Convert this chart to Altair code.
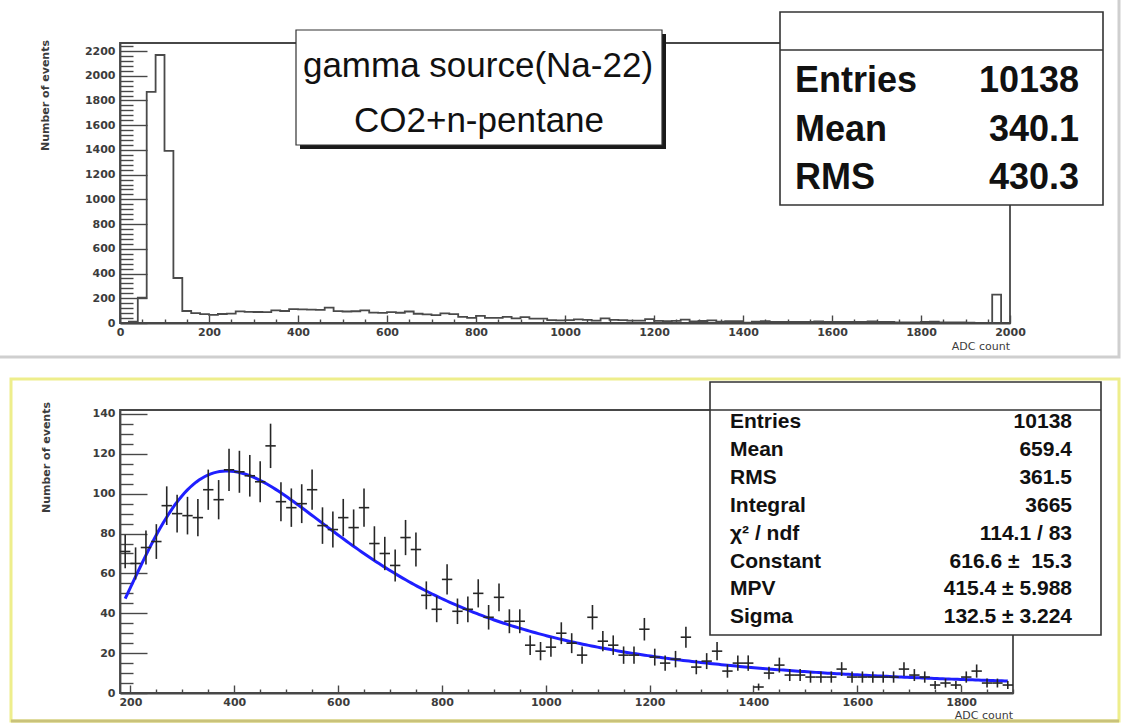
import numpy as np
import pandas as pd
import altair as alt

CANVAS_W, CANVAS_H = 1125, 728

# ---------------------------------------------------------------- data
BIN_WIDTH = 20
# events per 20-count ADC bin
COUNTS_0_180 = [0, 10, 205, 1869, 2168, 1392, 364, 97, 80]
COUNTS_180_1900 = [71, 65, 73, 76, 94, 90, 89, 88, 102, 97,
                   112, 111, 109, 106, 124, 96, 93, 95, 102, 84,
                   82, 88, 83, 93, 75, 70, 64, 78, 72, 49,
                   42, 57, 41, 42, 50, 38, 48, 36, 36, 24,
                   21, 23, 30, 25, 19, 38, 26, 24, 19, 19,
                   32, 18, 15, 17, 28, 13, 16, 21, 11,
                   15, 15, 3, 10, 14, 9, 9, 8, 8, 8,
                   12, 8, 8, 8, 8, 8, 12, 9, 8, 4,
                   5, 4, 8, 11, 5, 5, 4]
COUNTS_1900_2000 = [2, 1, 0, 230, 0]

TITLE_LINES = ["gamma source(Na-22)", "CO2+n-pentane"]
TOP_STATS = [("Entries", "10138"), ("Mean", "340.1"), ("RMS", "430.3")]
FIT_STATS = [("Entries", "10138"), ("Mean", "659.4"), ("RMS", "361.5"),
             ("Integral", "3665"), ("\u03c7\u00b2 / ndf", "114.1 / 83"),
             ("Constant", "616.6 \u00b1 \u00a015.3"),
             ("MPV", "415.4 \u00b1 5.988"), ("Sigma", "132.5 \u00b1 3.224")]
FIT_CONSTANT, FIT_MPV, FIT_SIGMA = 616.6, 415.4, 132.5
FIT_RANGE = (190, 1890)

X_TITLE = "ADC count"
Y_TITLE = "Number of events"

TOP_X_DOMAIN, TOP_Y_DOMAIN = [0, 2000], [0, 2265]
BOT_X_DOMAIN, BOT_Y_DOMAIN = [180, 1900], [0, 142]

# ---------------------------------------------------------------- layout (pixels)
TOP = dict(left=120, right=1010, top=43, bottom=323)
BOT = dict(left=120, right=1013, top=410, bottom=693)

AXIS_FONT = "DejaVu Sans"
BOX_FONT = "Liberation Sans"
FRAME_COLOR = "#474747"
LABEL_COLOR = "#3c3c3c"
INK = "#111111"

one_row = pd.DataFrame({"k": [0]})


def x_scale(domain, frame):
    return alt.Scale(domain=domain, range=[frame["left"], frame["right"]], nice=False, zero=False)


def y_scale(domain, frame):
    return alt.Scale(domain=domain, range=[frame["bottom"], frame["top"]], nice=False, zero=False)


def label_axis_x(frame, values):
    return alt.Axis(orient="bottom", offset=frame["bottom"] - CANVAS_H, values=values,
                    ticks=False, domain=False, grid=False, title=None, format="d",
                    labelFont=AXIS_FONT, labelFontSize=11, labelFontWeight="bold",
                    labelColor=LABEL_COLOR, labelPadding=3, labelFlush=False, labelOverlap=False)


def label_axis_y(frame, values):
    return alt.Axis(orient="left", offset=-frame["left"], values=values,
                    ticks=False, domain=False, grid=False, title=None, format="d",
                    labelFont=AXIS_FONT, labelFontSize=11, labelFontWeight="bold",
                    labelColor=LABEL_COLOR, labelPadding=5, labelFlush=False, labelOverlap=False)


def tick_axis_x(frame, values, major, long, short):
    # ticks pointing up into the plot, drawn along the bottom edge
    return alt.Axis(orient="top", offset=-frame["bottom"], values=values, labels=False,
                    grid=False, title=None, domain=True, domainColor=FRAME_COLOR,
                    domainWidth=1.8, tickColor=FRAME_COLOR, tickWidth=1.4,
                    tickSize={"condition": {"test": f"datum.value % {major} === 0", "value": long},
                              "value": short})


def tick_axis_y(frame, values, major, long, short):
    # ticks pointing right into the plot, drawn along the left edge
    return alt.Axis(orient="right", offset=frame["left"] - CANVAS_W, values=values, labels=False,
                    grid=False, title=None, domain=True, domainColor=FRAME_COLOR,
                    domainWidth=1.8, tickColor=FRAME_COLOR, tickWidth=1.4,
                    tickSize={"condition": {"test": f"datum.value % {major} === 0", "value": long},
                              "value": short})


def box(x0, y0, x1, y1, fill="white", stroke=INK, width=1.5):
    mark = alt.Chart(one_row).mark_rect(fill=fill, stroke=stroke, strokeWidth=width) if stroke else \
        alt.Chart(one_row).mark_rect(fill=fill, strokeWidth=0)
    return mark.encode(x=alt.value(x0), x2=alt.value(x1), y=alt.value(y0), y2=alt.value(y1))


def outline(x0, y0, x1, y1, stroke, width):
    return alt.Chart(one_row).mark_rect(filled=False, stroke=stroke, strokeWidth=width).encode(
        x=alt.value(x0), x2=alt.value(x1), y=alt.value(y0), y2=alt.value(y1))


def hline(x0, x1, y, color=INK, width=1.5):
    return alt.Chart(one_row).mark_rule(color=color, strokeWidth=width).encode(
        x=alt.value(x0), x2=alt.value(x1), y=alt.value(y))


def label(txt, x, y, size, weight="normal", align="left", font=BOX_FONT, angle=0, color=INK):
    return alt.Chart(one_row).mark_text(text=txt, align=align, baseline="middle", fontSize=size,
                                        fontWeight=weight, font=font, angle=angle, color=color).encode(
        x=alt.value(x), y=alt.value(y))


def landau_density(lam):
    """Standard Landau density (CERNLIB DENLAN convention) by direct integration."""
    t = np.linspace(0.0, 40.0, 40001)[1:]
    base = -t * np.log(t)
    return np.array([np.trapezoid(np.exp(base - l * t) * np.sin(np.pi * t), t) / np.pi
                     for l in np.atleast_1d(lam)])


# ---------------------------------------------------------------- tables
all_counts = COUNTS_0_180 + COUNTS_180_1900 + COUNTS_1900_2000
edges = [i * BIN_WIDTH for i in range(len(all_counts))]
hist_df = pd.DataFrame({"edge": edges + [edges[-1] + BIN_WIDTH],
                        "count": all_counts + [all_counts[-1]]})

lo = len(COUNTS_0_180) * BIN_WIDTH
centers = [lo + BIN_WIDTH * (i + 0.5) for i in range(len(COUNTS_180_1900))]
pts_df = pd.DataFrame({"center": centers, "count": COUNTS_180_1900})
pts_df["err"] = np.sqrt(pts_df["count"])
pts_df["lo"] = pts_df["count"] - pts_df["err"]
pts_df["hi"] = pts_df["count"] + pts_df["err"]
pts_df["left"] = pts_df["center"] - BIN_WIDTH / 2
pts_df["right"] = pts_df["center"] + BIN_WIDTH / 2

fit_x = np.linspace(FIT_RANGE[0], FIT_RANGE[1], 300)
fit_df = pd.DataFrame({"adc": fit_x,
                       "fit": FIT_CONSTANT * landau_density((fit_x - FIT_MPV) / FIT_SIGMA)})

top_frame_df = pd.DataFrame({"x0": [TOP_X_DOMAIN[0]], "x1": [TOP_X_DOMAIN[1]],
                             "y0": [TOP_Y_DOMAIN[0]], "y1": [TOP_Y_DOMAIN[1]]})
bot_frame_df = pd.DataFrame({"x0": [BOT_X_DOMAIN[0]], "x1": [BOT_X_DOMAIN[1]],
                             "y0": [BOT_Y_DOMAIN[0]], "y1": [BOT_Y_DOMAIN[1]]})

# ---------------------------------------------------------------- top panel
txs = x_scale(TOP_X_DOMAIN, TOP)
tys = y_scale(TOP_Y_DOMAIN, TOP)

top_hist = alt.Chart(hist_df).mark_line(interpolate="step-after", color="#4a4a4a", strokeWidth=1.8).encode(
    x=alt.X("edge:Q", scale=txs, axis=label_axis_x(TOP, list(range(0, 2001, 200)))),
    y=alt.Y("count:Q", scale=tys, axis=label_axis_y(TOP, list(range(0, 2201, 200)))),
)

top_frame = alt.Chart(top_frame_df).mark_rect(filled=False, stroke=FRAME_COLOR, strokeWidth=1.8).encode(
    x=alt.X("x0:Q", scale=txs, axis=tick_axis_x(TOP, list(range(0, 2001, 50)), 200, 8, 4)),
    x2="x1:Q",
    y=alt.Y("y0:Q", scale=tys, axis=tick_axis_y(TOP, list(range(0, 2241, 40)), 200, 27, 13)),
    y2="y1:Q",
)

# ---------------------------------------------------------------- bottom panel
bxs = x_scale(BOT_X_DOMAIN, BOT)
bys = y_scale(BOT_Y_DOMAIN, BOT)

bot_frame = alt.Chart(bot_frame_df).mark_rect(filled=False, stroke=FRAME_COLOR, strokeWidth=1.8).encode(
    x=alt.X("x0:Q", scale=bxs, axis=tick_axis_x(BOT, list(range(200, 1901, 50)), 200, 8, 4)),
    x2="x1:Q",
    y=alt.Y("y0:Q", scale=bys, axis=tick_axis_y(BOT, list(range(0, 141, 5)), 20, 27, 13)),
    y2="y1:Q",
)

err_v = alt.Chart(pts_df).mark_rule(color="#262626", strokeWidth=1.6).encode(
    x=alt.X("center:Q", scale=bxs, axis=label_axis_x(BOT, list(range(200, 1801, 200)))),
    y=alt.Y("lo:Q", scale=bys, axis=label_axis_y(BOT, list(range(0, 141, 20)))),
    y2="hi:Q",
)

err_h = alt.Chart(pts_df).mark_rule(color="#262626", strokeWidth=1.6).encode(
    x=alt.X("left:Q", scale=bxs, axis=None),
    x2="right:Q",
    y=alt.Y("count:Q", scale=bys, axis=None),
)

fit_line = alt.Chart(fit_df).mark_line(color="#1f1fff", strokeWidth=3).encode(
    x=alt.X("adc:Q", scale=bxs, axis=None),
    y=alt.Y("fit:Q", scale=bys, axis=None),
)

# ---------------------------------------------------------------- panes, boxes, titles
layers = [
    # canvas borders
    outline(-4, -4, 1119, 357, "#cfcfcf", 3),
    outline(11, 379, 1119, 721, "#eeee8c", 3),
    hline(11, 1119, 721, "#c9c27a", 3),
    # top pad
    top_hist,
    top_frame,
    box(300, 34, 666, 149, fill="#1a1a1a", stroke=None),
    box(296, 30, 662, 145, stroke="#333333", width=1.2),
    label(TITLE_LINES[0], 478, 66, 35, align="center"),
    label(TITLE_LINES[1], 479, 121, 35, align="center"),
    box(780, 12, 1103, 205, stroke="#333333", width=1.6),
    hline(780, 1103, 50, "#333333", 1.6),
]
for i, (name, value) in enumerate(TOP_STATS):
    y = 81 + i * 48.5
    layers.append(label(name, 795, y, 36, weight="bold"))
    layers.append(label(value, 1079, y, 36, weight="bold", align="right"))

layers += [
    label(Y_TITLE, 46, 40, 11, weight="bold", align="right", font=AXIS_FONT, angle=270, color=LABEL_COLOR),
    label(X_TITLE, TOP["right"], 347, 11, align="right", font=AXIS_FONT, color=LABEL_COLOR),
    # bottom pad
    bot_frame,
    fit_line,
    err_v,
    err_h,
    box(710, 382, 1101, 635, stroke="#333333", width=1.6),
    hline(710, 1101, 410, "#333333", 1.6),
]
for i, (name, value) in enumerate(FIT_STATS):
    y = 422 + i * 27.9
    layers.append(label(name, 730, y, 21, weight="bold"))
    layers.append(label(value, 1072, y, 21, weight="bold", align="right"))

layers += [
    label(Y_TITLE, 47, 402, 11, weight="bold", align="right", font=AXIS_FONT, angle=270, color=LABEL_COLOR),
    label(X_TITLE, BOT["right"], 716, 11, align="right", font=AXIS_FONT, color=LABEL_COLOR),
]

chart = alt.layer(*layers).resolve_scale(x="independent", y="independent").properties(
    width=CANVAS_W, height=CANVAS_H, padding=0,
    autosize=alt.AutoSizeParams(type="none"),
    background="white",
).configure_view(stroke=None)

chart.save("out.html", embed_options={"renderer": "svg", "actions": False})
